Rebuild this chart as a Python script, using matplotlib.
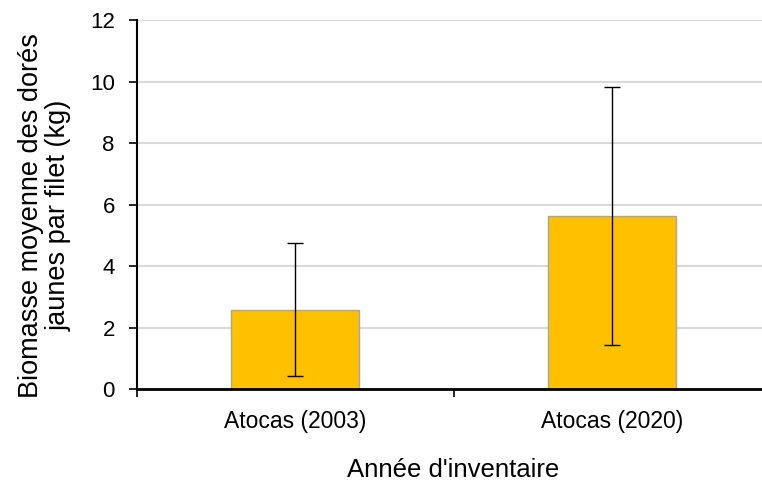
import numpy as np
import matplotlib
matplotlib.use("Agg")
from matplotlib import pyplot as plt

plt.rcParams['font.family'] = ['Liberation Sans', 'DejaVu Sans']

categories = ["Atocas (2003)", "Atocas (2020)"]
biomasse = [2.57, 5.63]
err_bas = [0.42, 1.43]   # bas de la barre d'erreur
err_haut = [4.75, 9.82]  # haut de la barre d'erreur

yerr = [np.array(biomasse) - np.array(err_bas), np.array(err_haut) - np.array(biomasse)]

fig = plt.figure(figsize=(7.62, 4.84), dpi=100, facecolor='w')
ax = fig.add_axes([137/762, 1 - 389/484, (770 - 137)/762, (389 - 20)/484])

x = np.arange(len(categories))
ax.bar(x, biomasse, width=0.405, color='#FFC000', edgecolor='#A5A5A5', linewidth=1, zorder=2)
ax.errorbar(x, biomasse, yerr=yerr, fmt='none', ecolor='black', elinewidth=1, capsize=5.5, capthick=1, zorder=3)

ax.set_xlim(-0.5, 1.5)
ax.set_ylim(0, 12)
ax.set_yticks(np.arange(0, 13, 2))
ax.yaxis.grid(True, color='#D9D9D9', linewidth=1.5)
ax.set_axisbelow(True)

ax.set_xticks([-0.5, 0.5, 1.5])
ax.set_xticklabels([])
ax.set_xticks(x, minor=True)
ax.set_xticklabels(categories, minor=True, fontsize=16.5)
ax.tick_params(axis='x', which='minor', length=0, pad=15)
ax.tick_params(axis='x', which='major', length=6, width=1.2, direction='out')
ax.tick_params(axis='y', length=6, width=1.2, labelsize=16, pad=10)

for s in ['top', 'right']:
    ax.spines[s].set_visible(False)
ax.spines['left'].set_linewidth(1.5)
ax.spines['bottom'].set_linewidth(2)

ax.set_xlabel("Année d'inventaire", fontsize=18.5, labelpad=18)
ax.set_ylabel("Biomasse moyenne des dorés\njaunes par filet (kg)", fontsize=19.5, labelpad=13, linespacing=1.1)
ax.yaxis.label.set_y(0.47)

plt.savefig('out.png', dpi=100)
plt.close()
